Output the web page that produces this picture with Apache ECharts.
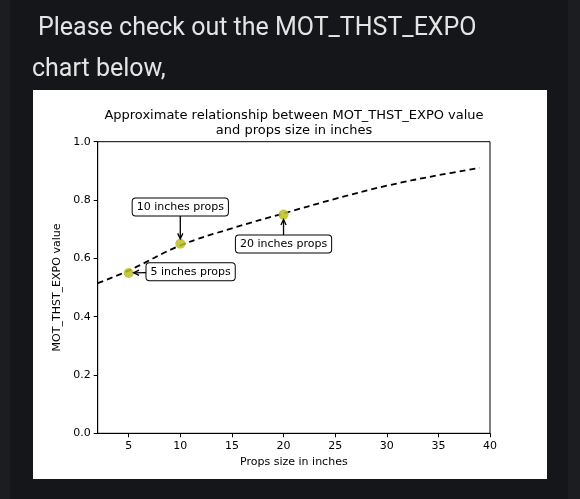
<!DOCTYPE html>
<html>
<head>
<meta charset="utf-8">
<script src="https://cdn.jsdelivr.net/npm/echarts@6/dist/echarts.min.js"></script>
<style>
html, body { margin: 0; padding: 0; background: #15161a; }
#chart { width: 580px; height: 499px; }
</style>
</head>
<body>
<div id="chart"></div>
<script>
// dashed curve
const curveX = [2, 5, 10, 15, 20, 25, 30, 35, 39];
const curveY = [0.515, 0.558, 0.644, 0.703, 0.754, 0.804, 0.849, 0.885, 0.910];

// measured props
const propSizes = [5, 10, 20];
const expoValues = [0.55, 0.65, 0.75];

// annotation text and where the text sits (data coords)
const noteLabels = ['5 inches props', '10 inches props', '20 inches props'];
const noteX = [11, 10, 20];
const noteY = [0.554, 0.776, 0.649];

const xTicks = [5, 10, 15, 20, 25, 30, 35, 40];

const tickFont = { fontFamily: 'DejaVu Sans', fontSize: 11, color: '#000' };

const chart = echarts.init(document.getElementById('chart'));

const option = {
    backgroundColor: '#15161a',
    animation: false,
    graphic: [
        { type: 'rect', shape: { x: 0, y: 0, width: 10, height: 499 }, style: { fill: '#1c1d21' }, silent: true },
        { type: 'rect', shape: { x: 568, y: 0, width: 12, height: 499 }, style: { fill: '#1c1d21' }, silent: true },
        { type: 'rect', shape: { x: 33, y: 90, width: 514, height: 389 }, style: { fill: '#fff' }, silent: true, z: -10 },
        {
            type: 'text', x: 38, y: 29,
            style: { text: 'Please check out the MOT_THST_EXPO', fill: '#e4e4e4', font: '25px Roboto', verticalAlign: 'middle' }
        },
        {
            type: 'text', x: 32, y: 70,
            style: { text: 'chart below,', fill: '#e4e4e4', font: '25px Roboto', verticalAlign: 'middle' }
        },
        {
            type: 'text', x: 294, y: 123,
            style: {
                text: 'Approximate relationship between MOT_THST_EXPO value\nand props size in inches',
                fill: '#000', font: '13px "DejaVu Sans"', align: 'center', verticalAlign: 'middle', lineHeight: 15
            }
        }
    ],
    grid: {
        left: 97.7,
        right: 90,
        top: 141.7,
        bottom: 65.7,
        show: true,
        borderColor: '#000',
        borderWidth: 1,
        backgroundColor: '#fff'
    },
    xAxis: {
        type: 'value',
        min: 2,
        max: 40,
        name: 'Props size in inches',
        nameLocation: 'middle',
        nameGap: 22,
        nameTextStyle: tickFont,
        axisLine: { lineStyle: { color: '#000' } },
        axisTick: { show: true, length: 4, lineStyle: { color: '#000' }, customValues: xTicks },
        axisLabel: Object.assign({ margin: 7, customValues: xTicks }, tickFont),
        splitLine: { show: false }
    },
    yAxis: {
        type: 'value',
        min: 0,
        max: 1,
        interval: 0.2,
        name: 'MOT_THST_EXPO value',
        nameLocation: 'middle',
        nameGap: 31,
        nameTextStyle: tickFont,
        axisLine: { show: true, lineStyle: { color: '#000' } },
        axisTick: { show: true, length: 4, lineStyle: { color: '#000' } },
        axisLabel: Object.assign({ margin: 7, formatter: v => v.toFixed(1) }, tickFont),
        splitLine: { show: false }
    },
    series: [
        {
            type: 'line',
            data: curveX.map((x, i) => [x, curveY[i]]),
            smooth: 0.4,
            showSymbol: false,
            lineStyle: { color: '#000', width: 1.8, type: [6, 4] },
            z: 2
        },
        {
            type: 'scatter',
            data: propSizes.map((x, i) => [x, expoValues[i]]),
            symbolSize: 10,
            itemStyle: { color: '#bcbd22', opacity: 0.85 },
            z: 3
        },
        {
            type: 'custom',
            clip: false,
            z: 4,
            data: propSizes.map((x, i) => [x, expoValues[i], noteX[i], noteY[i]]),
            renderItem: (params, api) => {
                const p = api.coord([api.value(0), api.value(1)]);
                const t = api.coord([api.value(2), api.value(3)]);
                const dx = t[0] - p[0];
                const dy = t[1] - p[1];
                const len = Math.hypot(dx, dy);
                const ux = dx / len;
                const uy = dy / len;
                const tip = [p[0] + ux * 5, p[1] + uy * 5];
                const ang = 0.45;
                const hl = 6;
                const rot = a => [
                    tip[0] + hl * (ux * Math.cos(a) - uy * Math.sin(a)),
                    tip[1] + hl * (ux * Math.sin(a) + uy * Math.cos(a))
                ];
                return {
                    type: 'group',
                    children: [
                        {
                            type: 'line',
                            shape: { x1: t[0], y1: t[1], x2: tip[0], y2: tip[1] },
                            style: { stroke: '#000', lineWidth: 1.3 }
                        },
                        {
                            type: 'polyline',
                            shape: { points: [rot(ang), tip, rot(-ang)] },
                            style: { stroke: '#000', lineWidth: 1.3, fill: null }
                        },
                        {
                            type: 'text',
                            x: t[0],
                            y: t[1],
                            z2: 10,
                            style: {
                                text: noteLabels[params.dataIndex],
                                font: '11px "DejaVu Sans"',
                                fill: '#000',
                                align: 'center',
                                verticalAlign: 'middle',
                                backgroundColor: '#fff',
                                borderColor: '#000',
                                borderWidth: 1,
                                borderRadius: 3,
                                padding: [3, 4]
                            }
                        }
                    ]
                };
            }
        }
    ]
};

chart.setOption(option);
</script>
</body>
</html>
